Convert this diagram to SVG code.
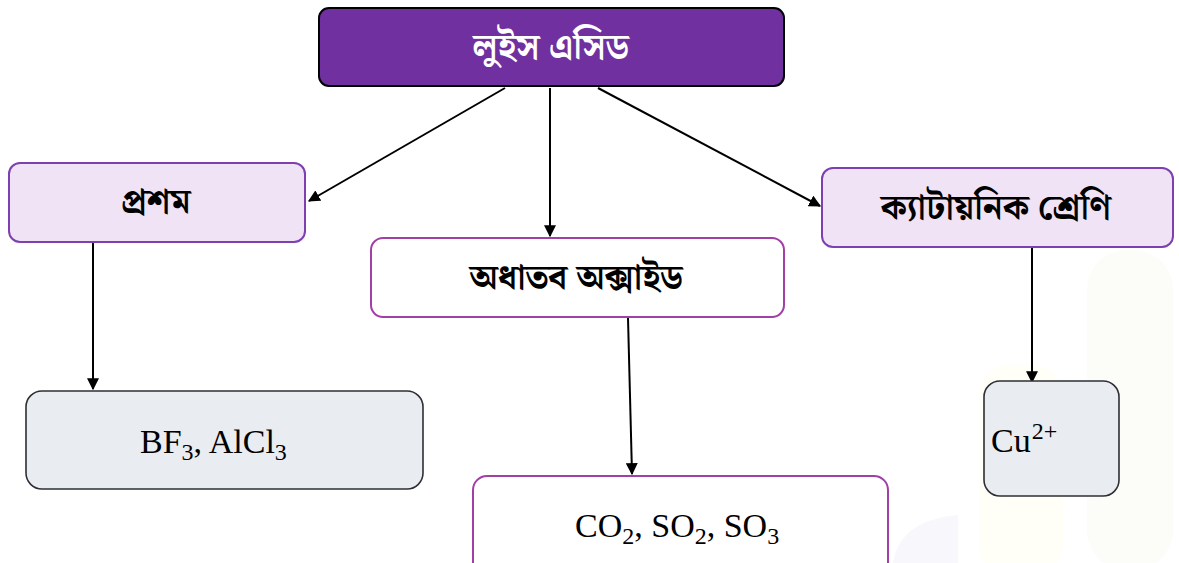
<svg xmlns="http://www.w3.org/2000/svg" width="1179" height="563" viewBox="0 0 1179 563">
<style>
.bn{font-family:"Noto Serif Bengali","Noto Sans Bengali","Lohit Bengali","Noto Sans",sans-serif;font-weight:bold;text-anchor:middle}
.ch{font-family:"Liberation Serif","DejaVu Serif",serif;font-size:34px;fill:#000}
.sub{font-size:24px}
.lav{fill:#efe3f5;stroke:#7e3fb0;stroke-width:2}
.wht{fill:#fff;stroke:#a13fa6;stroke-width:2}
.gry{fill:#e9ecf1;stroke:#2d2f35;stroke-width:1.6}
.con{stroke:#000;stroke-width:2;fill:none}
</style>
<defs>
<marker id="ah" viewBox="0 0 10 10" refX="9" refY="5" markerWidth="6" markerHeight="6" orient="auto" markerUnits="strokeWidth">
<path d="M0,0 L10,5 L0,10 z" fill="#000"/>
</marker>
</defs>
<rect width="1179" height="563" fill="#fff"/>
<g id="watermark">
<rect x="1087" y="250" width="86" height="320" rx="40" fill="#fcfcf8"/>
<rect x="979" y="365" width="84" height="210" rx="30" fill="#fffef7"/>
<path d="M893,563 Q900,520 958,515 L958,563 z" fill="#f8f7fb"/>
</g>
<g id="connectors">
<line class="con" x1="505" y1="88" x2="309" y2="201" marker-end="url(#ah)"/>
<line class="con" x1="550" y1="88" x2="550" y2="236" marker-end="url(#ah)"/>
<line class="con" x1="598" y1="88" x2="820" y2="206" marker-end="url(#ah)"/>
<line class="con" x1="93" y1="243" x2="93" y2="389" marker-end="url(#ah)"/>
<line class="con" x1="628" y1="318" x2="632" y2="474" marker-end="url(#ah)"/>
<line class="con" x1="1032" y1="248" x2="1032" y2="382" marker-end="url(#ah)"/>
</g>
<g id="lewis-acid">
<rect x="319" y="8" width="465" height="78" rx="10" fill="#7030a0" stroke="#000" stroke-width="2"/>
<text class="bn" x="551" y="59" font-size="36" fill="#fff">লুইস এসিড</text>
</g>
<g id="proshom">
<rect class="lav" x="9" y="163" width="296" height="79" rx="11"/>
<text class="bn" x="156" y="213" font-size="35" fill="#000">প্রশম</text>
</g>
<g id="nonmetal-oxide">
<rect class="wht" x="371" y="238" width="413" height="79" rx="12"/>
<text class="bn" x="576" y="289" font-size="35" fill="#000">অধাতব অক্সাইড</text>
</g>
<g id="cation">
<rect class="lav" x="822" y="168" width="351" height="79" rx="11"/>
<text class="bn" x="996" y="219" font-size="35" fill="#000">ক্যাটায়নিক শ্রেণি</text>
</g>
<g id="bf3">
<rect class="gry" x="26" y="391" width="397" height="98" rx="16"/>
<text class="ch" x="140" y="453">BF<tspan class="sub" dy="7">3</tspan><tspan dy="-7">, AlCl</tspan><tspan class="sub" dy="7">3</tspan></text>
</g>
<g id="co2">
<rect class="wht" x="473" y="476" width="415" height="100" rx="14"/>
<text class="ch" x="575" y="537">CO<tspan class="sub" dy="7">2</tspan><tspan dy="-7">, SO</tspan><tspan class="sub" dy="7">2</tspan><tspan dy="-7">, SO</tspan><tspan class="sub" dy="7">3</tspan></text>
</g>
<g id="cu">
<rect class="gry" x="984" y="381" width="135" height="115" rx="16"/>
<text class="ch" x="991" y="452">Cu<tspan class="sub" dx="1" dy="-13">2+</tspan></text>
</g>
</svg>
